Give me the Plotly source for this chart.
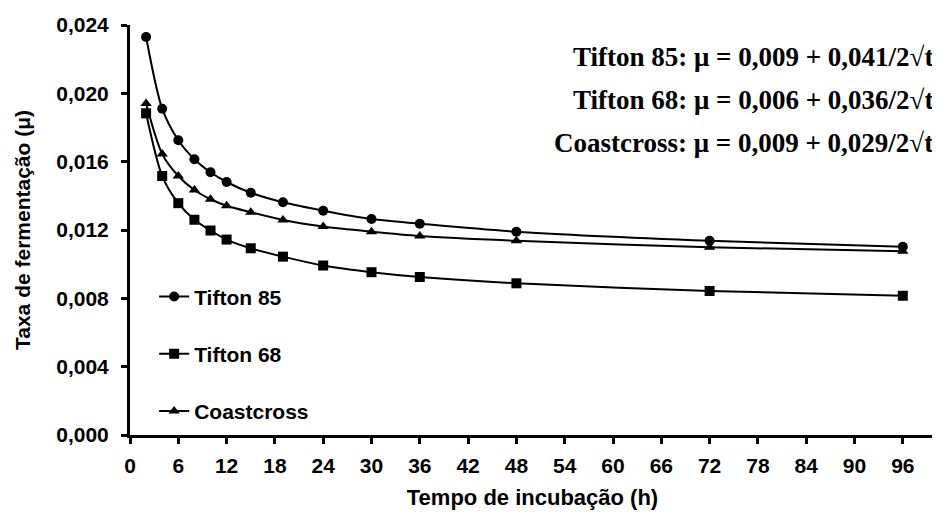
import plotly.graph_objects as go

tempo = [2, 4, 6, 8, 10, 12, 15, 19, 24, 30, 36, 48, 72, 96]
tifton85 = [0.0233, 0.0191, 0.01725, 0.01614, 0.01538, 0.01481, 0.01418, 0.01362,
            0.01313, 0.01264, 0.01237, 0.01190, 0.01137, 0.01102]
tifton68 = [0.01883, 0.01516, 0.01357, 0.01260, 0.01197, 0.01144, 0.01093, 0.01044,
            0.00992, 0.00953, 0.00925, 0.00888, 0.00843, 0.00815]
coastcross = [0.0194, 0.01645, 0.01516, 0.01434, 0.01380, 0.01342, 0.01304, 0.01259,
              0.01220, 0.01190, 0.01165, 0.01137, 0.01099, 0.01075]

series = [("Tifton 85", tifton85, "circle"),
          ("Tifton 68", tifton68, "square"),
          ("Coastcross", coastcross, "triangle-up")]

equations = ["Tifton 85: μ = 0,009 + 0,041/2√t",
             "Tifton 68: μ = 0,006 + 0,036/2√t",
             "Coastcross: μ = 0,009 + 0,029/2√t"]

x_ticks = list(range(0, 97, 6))
y_ticks = [0, 0.004, 0.008, 0.012, 0.016, 0.020, 0.024]

SANS = "Liberation Sans, Arial, sans-serif"
SERIF = "Liberation Serif, Times New Roman, serif"

fig = go.Figure()
for i, (name, vals, sym) in enumerate(series):
    fig.add_trace(go.Scatter(
        x=tempo, y=vals, name=name, mode="lines+markers",
        line=dict(color="black", width=2, shape="spline", smoothing=0.8),
        marker=dict(symbol=sym, size=10, color="black"),
        legendgroup=f"g{i}",
    ))

# page body has an 8px margin: shrink the figure so the plot area lands where it should
fig.update_layout(
    width=932, height=515,
    margin=dict(l=122, r=5, t=17, b=88),
    plot_bgcolor="white", paper_bgcolor="white",
    separators=", ",
    showlegend=True,
    legend=dict(x=0.03, y=0.387, xanchor="left", yanchor="top",
                font=dict(family=SANS, size=21, color="black", weight="bold"),
                bgcolor="rgba(0,0,0,0)", tracegroupgap=27, itemwidth=30),
    xaxis=dict(range=[0, 100], tickvals=x_ticks, ticks="outside", ticklen=6, tickwidth=3,
               tickcolor="black", showline=True, linecolor="black", linewidth=3,
               showgrid=False, zeroline=False, ticklabelstandoff=4,
               tickfont=dict(family=SANS, size=21, color="black", weight="bold"),
               title=dict(text="Tempo de incubação (h)", standoff=14,
                          font=dict(family=SANS, size=22, color="black", weight="bold"))),
    yaxis=dict(range=[0, 0.024], tickvals=y_ticks, tickformat=".3f", ticks="outside",
               ticklen=6, tickwidth=3, tickcolor="black", showline=True, linecolor="black",
               linewidth=3, showgrid=False, zeroline=False, ticklabelstandoff=8,
               tickfont=dict(family=SANS, size=21, color="black", weight="bold"),
               title=dict(text="Taxa de fermentação (μ)", standoff=20,
                          font=dict(family=SANS, size=21, color="black", weight="bold"))),
)

for i, eq in enumerate(equations):
    fig.add_annotation(text=eq, xref="paper", yref="paper",
                       x=1.0, y=(435 - 57 - 43 * i) / 410, xanchor="right", yanchor="middle",
                       showarrow=False,
                       font=dict(family=SERIF, size=27, color="black", weight="bold"))

fig.write_html("out.html")
